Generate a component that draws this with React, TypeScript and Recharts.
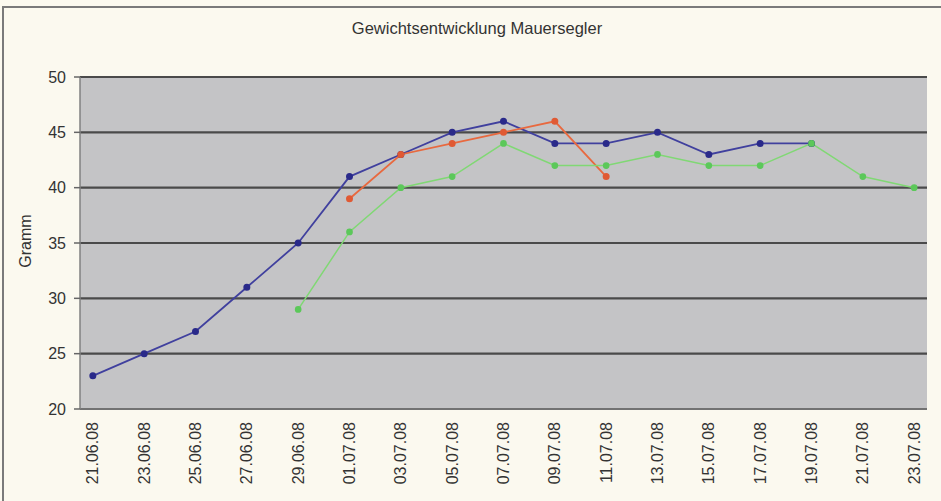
import React from "react";
import { LineChart, Line, XAxis, YAxis, CartesianGrid } from "recharts";

const dates = [
  "21.06.08", "23.06.08", "25.06.08", "27.06.08", "29.06.08", "01.07.08",
  "03.07.08", "05.07.08", "07.07.08", "09.07.08", "11.07.08", "13.07.08",
  "15.07.08", "17.07.08", "19.07.08", "21.07.08", "23.07.08",
];
const blueSeries = [23, 25, 27, 31, 35, 41, 43, 45, 46, 44, 44, 45, 43, 44, 44, null, null];
const orangeSeries = [null, null, null, null, null, 39, 43, 44, 45, 46, 41, null, null, null, null, null, null];
const greenSeries = [null, null, null, null, 29, 36, 40, 41, 44, 42, 42, 43, 42, 42, 44, 41, 40];
const yTicks = [20, 25, 30, 35, 40, 45, 50];

const toTime = (s: string) => {
  const [d, m, y] = s.split(".").map(Number);
  return Date.UTC(2000 + y, m - 1, d);
};
const t0 = toTime(dates[0]);
const dayOf = (s: string) => Math.round((toTime(s) - t0) / 86400000);
const lastDay = dayOf(dates[dates.length - 1]);

const data = dates.map((d, i) => ({
  day: dayOf(d),
  label: d,
  blue: blueSeries[i],
  orange: orangeSeries[i],
  green: greenSeries[i],
}));

const labelTicks = data.map((r) => r.day);
const markTicks: number[] = [];
for (let v = -0.5; v < lastDay + 0.5; v += 2) markTicks.push(v);

const FONT = '"Liberation Sans", Arial, sans-serif';

const XTick = (props: any) => {
  const { x, y, payload } = props;
  const row = data.find((r) => r.day === payload.value);
  return (
    <text
      x={x}
      y={y}
      transform={`rotate(-90 ${x} ${y})`}
      textAnchor="end"
      dominantBaseline="central"
      fontFamily={FONT}
      fontSize={16}
      fill="#333"
    >
      {row ? row.label : ""}
    </text>
  );
};

export default function App() {
  return (
    <div
      style={{
        position: "absolute",
        left: 0,
        top: 0,
        width: 941,
        height: 501,
        background: "#fbf9ef",
        overflow: "hidden",
        fontFamily: FONT,
      }}
    >
      <div
        style={{
          position: "absolute",
          left: 2,
          top: 6,
          width: 980,
          height: 600,
          border: "2px solid #7a7a7a",
          boxSizing: "border-box",
        }}
      />
      <div
        style={{
          position: "absolute",
          left: 277,
          top: 18,
          width: 400,
          textAlign: "center",
          fontSize: 16.5,
          color: "#333",
          lineHeight: "20px",
        }}
      >
        Gewichtsentwicklung Mauersegler
      </div>
      <div
        style={{
          position: "absolute",
          left: 26,
          top: 241,
          transform: "translate(-50%, -50%) rotate(-90deg)",
          fontSize: 16,
          color: "#333",
          whiteSpace: "nowrap",
        }}
      >
        Gramm
      </div>
      <div style={{ position: "absolute", left: 0, top: 0 }}>
        <LineChart
          width={941}
          height={501}
          data={data}
          margin={{ top: 77, right: 14, bottom: 0, left: 0 }}
        >
          <CartesianGrid
            vertical={false}
            stroke="#4a4a4a"
            strokeWidth={2.2}
            fill="#c4c4c6"
            fillOpacity={1}
          />
          <XAxis
            xAxisId="marks"
            dataKey="day"
            type="number"
            domain={[-0.5, lastDay + 0.5]}
            ticks={markTicks}
            tick={false}
            tickSize={5}
            tickLine={{ stroke: "#666", strokeWidth: 1.5 }}
            axisLine={false}
            height={0}
            allowDataOverflow
          />
          <XAxis
            xAxisId="labels"
            dataKey="day"
            type="number"
            domain={[-0.5, lastDay + 0.5]}
            ticks={labelTicks}
            tick={<XTick />}
            tickLine={false}
            tickSize={0}
            tickMargin={13}
            axisLine={{ stroke: "#808080", strokeWidth: 1.5 }}
            height={92}
            interval={0}
            allowDataOverflow
          />
          <YAxis
            type="number"
            domain={[20, 50]}
            ticks={yTicks}
            width={80}
            tickSize={6}
            tickMargin={8}
            tickLine={{ stroke: "#666", strokeWidth: 1.5 }}
            axisLine={{ stroke: "#808080", strokeWidth: 1.5 }}
            tick={{ fontFamily: FONT, fontSize: 16, fill: "#333" }}
            interval={0}
          />
          <Line
            xAxisId="labels"
            dataKey="blue"
            type="linear"
            stroke="#40409e"
            strokeWidth={1.8}
            dot={{ r: 2.6, fill: "#2a2a8a", stroke: "#2a2a8a" }}
            activeDot={false}
            isAnimationActive={false}
          />
          <Line
            xAxisId="labels"
            dataKey="orange"
            type="linear"
            stroke="#e8693f"
            strokeWidth={1.8}
            dot={{ r: 2.6, fill: "#e05a34", stroke: "#e05a34" }}
            activeDot={false}
            isAnimationActive={false}
          />
          <Line
            xAxisId="labels"
            dataKey="green"
            type="linear"
            stroke="#80d874"
            strokeWidth={1.5}
            dot={{ r: 2.6, fill: "#5cc85a", stroke: "#5cc85a" }}
            activeDot={false}
            isAnimationActive={false}
          />
        </LineChart>
      </div>
    </div>
  );
}
